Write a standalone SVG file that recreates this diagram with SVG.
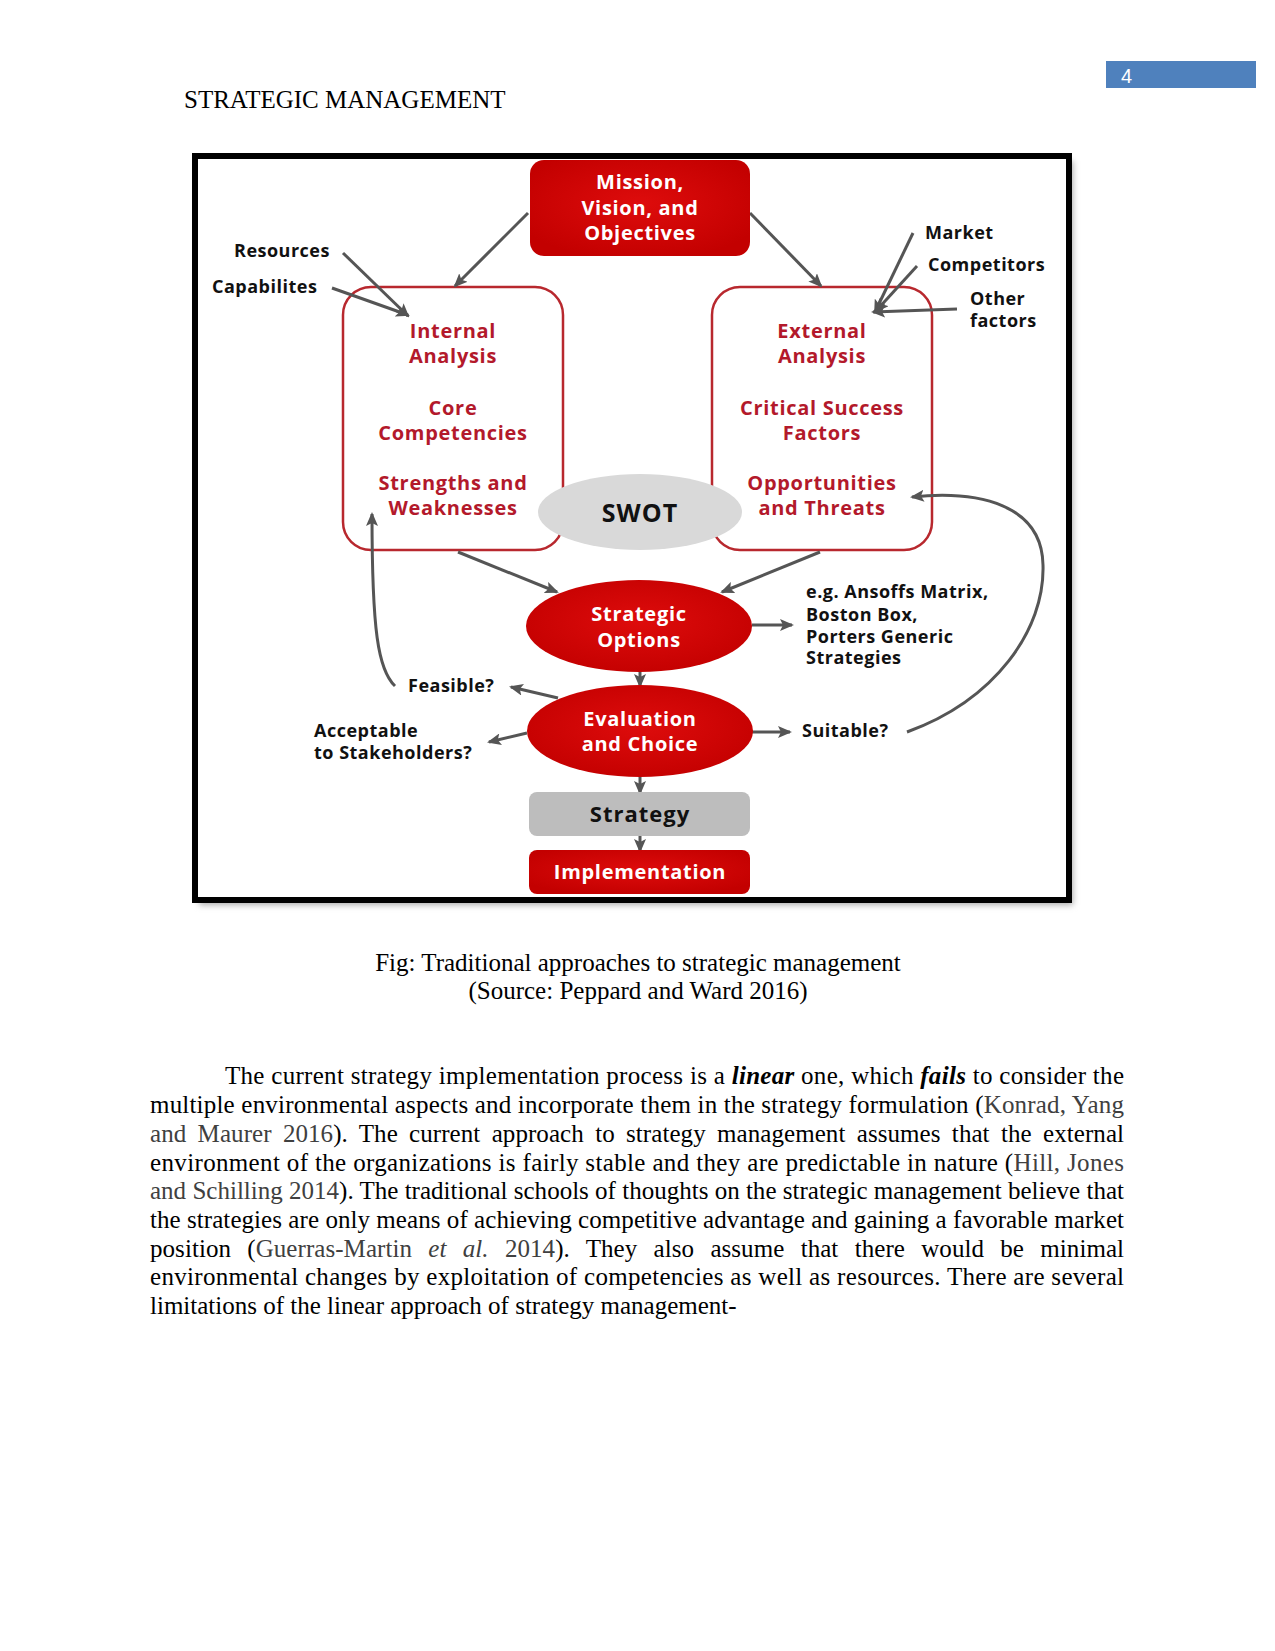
<svg xmlns="http://www.w3.org/2000/svg" width="1275" height="1651" viewBox="0 0 1275 1651">
<style>
.serif{font-family:"Liberation Serif","Times New Roman",serif;font-size:25px;fill:#000}
.cit{fill:#404040}
.rt{font-family:"Open Sans","Liberation Sans",sans-serif;font-weight:700;font-size:20px;letter-spacing:0.7px;fill:#b3192b;text-anchor:middle}
.wt{font-family:"Open Sans","Liberation Sans",sans-serif;font-weight:700;font-size:20px;letter-spacing:0.7px;fill:#fff;text-anchor:middle}
.bt{font-family:"Open Sans","Liberation Sans",sans-serif;font-weight:700;font-size:18px;letter-spacing:0.5px;fill:#111}
.conn{fill:none;stroke:#555;stroke-width:3;marker-end:url(#ah)}
.box{fill:none;stroke:#b8282e;stroke-width:2.5}
</style>
<defs>
<marker id="ah" markerUnits="userSpaceOnUse" markerWidth="14" markerHeight="12" refX="12" refY="6" orient="auto">
<path d="M0,0 L14,6 L0,12 L3,6 Z" fill="#555"/>
</marker>
<radialGradient id="red" cx="0.5" cy="0.45" r="0.6">
<stop offset="0" stop-color="#de0c0c"/>
<stop offset="1" stop-color="#c30000"/>
</radialGradient>
<filter id="sh" x="-5%" y="-5%" width="110%" height="110%">
<feGaussianBlur stdDeviation="3"/>
</filter>
</defs>
<rect width="1275" height="1651" fill="#fff"/>

<g id="header">
<rect x="1106" y="61" width="150" height="27" fill="#4f81bd"/>
<text x="1121" y="83" font-family="Liberation Sans, Arial, sans-serif" font-size="20" fill="#fff">4</text>
<text x="184" y="108" class="serif">STRATEGIC MANAGEMENT</text>
</g>

<g id="frame">
<rect x="199" y="161" width="874" height="744" fill="#aaa" filter="url(#sh)"/>
<rect x="195" y="156" width="874" height="744" fill="#fff" stroke="#000" stroke-width="6"/>
</g>

<g id="internal">
<rect class="box" x="343" y="287" width="220" height="263" rx="28"/>
<text class="rt" x="453" y="338">Internal</text>
<text class="rt" x="453" y="363">Analysis</text>
<text class="rt" x="453" y="415">Core</text>
<text class="rt" x="453" y="440">Competencies</text>
<text class="rt" x="453" y="490">Strengths and</text>
<text class="rt" x="453" y="515">Weaknesses</text>
</g>

<g id="external">
<rect class="box" x="712" y="287" width="220" height="263" rx="28"/>
<text class="rt" x="822" y="338">External</text>
<text class="rt" x="822" y="363">Analysis</text>
<text class="rt" x="822" y="415">Critical Success</text>
<text class="rt" x="822" y="440">Factors</text>
<text class="rt" x="822" y="490">Opportunities</text>
<text class="rt" x="822" y="515">and Threats</text>
</g>

<g id="connectors">
<line class="conn" x1="528" y1="213" x2="455" y2="286"/>
<line class="conn" x1="750" y1="213" x2="821" y2="286"/>
<line class="conn" x1="343" y1="253" x2="408" y2="316"/>
<line class="conn" x1="332" y1="288" x2="408" y2="315"/>
<line class="conn" x1="913" y1="233" x2="875" y2="312"/>
<line class="conn" x1="917" y1="266" x2="876" y2="311"/>
<line class="conn" x1="957" y1="309" x2="873" y2="312"/>
<line class="conn" x1="458" y1="552" x2="557" y2="592"/>
<line class="conn" x1="820" y1="552" x2="722" y2="592"/>
<line class="conn" x1="752" y1="625" x2="792" y2="625"/>
<line class="conn" x1="640" y1="671" x2="640" y2="686"/>
<line class="conn" x1="558" y1="698" x2="511" y2="687"/>
<line class="conn" x1="527" y1="733" x2="489" y2="742"/>
<line class="conn" x1="752" y1="732" x2="790" y2="732"/>
<line class="conn" x1="640" y1="776" x2="640" y2="793"/>
<line class="conn" x1="640" y1="836" x2="640" y2="851"/>
<path class="conn" d="M395,686 C378,670 372,630 372,514"/>
<path class="conn" d="M907,732 C995,700 1045,630 1043,565 C1042,505 980,490 912,497"/>
</g>

<g id="mission">
<rect x="530" y="160" width="220" height="96" rx="14" fill="url(#red)"/>
<text class="wt" x="640" y="189">Mission,</text>
<text class="wt" x="640" y="215">Vision, and</text>
<text class="wt" x="640" y="240">Objectives</text>
</g>

<g id="swot">
<ellipse cx="640" cy="512" rx="102" ry="38" fill="#d9d9d9"/>
<text x="640" y="522" font-family="Open Sans, Liberation Sans, sans-serif" font-weight="700" font-size="25" letter-spacing="1" fill="#111" text-anchor="middle">SWOT</text>
</g>

<g id="options">
<ellipse cx="639" cy="626" rx="113" ry="46" fill="url(#red)"/>
<text class="wt" x="639" y="621">Strategic</text>
<text class="wt" x="639" y="647">Options</text>
</g>

<g id="evaluation">
<ellipse cx="640" cy="731" rx="113" ry="46" fill="url(#red)"/>
<text class="wt" x="640" y="726">Evaluation</text>
<text class="wt" x="640" y="751">and Choice</text>
</g>

<g id="strategy">
<rect x="529" y="792" width="221" height="44" rx="8" fill="#bdbdbd"/>
<text x="640" y="822" font-family="Open Sans, Liberation Sans, sans-serif" font-weight="700" font-size="22" letter-spacing="1" fill="#111" text-anchor="middle">Strategy</text>
</g>

<g id="implementation">
<rect x="529" y="850" width="221" height="44" rx="8" fill="url(#red)"/>
<text class="wt" x="640" y="879">Implementation</text>
</g>

<g id="labels">
<text class="bt" x="234" y="257">Resources</text>
<text class="bt" x="212" y="293">Capabilites</text>
<text class="bt" x="925" y="239">Market</text>
<text class="bt" x="928" y="271">Competitors</text>
<text class="bt" x="970" y="305">Other</text>
<text class="bt" x="970" y="327">factors</text>
<text class="bt" x="806" y="598">e.g. Ansoffs Matrix,</text>
<text class="bt" x="806" y="621">Boston Box,</text>
<text class="bt" x="806" y="643">Porters Generic</text>
<text class="bt" x="806" y="664">Strategies</text>
<text class="bt" x="802" y="737">Suitable?</text>
<text class="bt" x="408" y="692">Feasible?</text>
<text class="bt" x="314" y="737">Acceptable</text>
<text class="bt" x="314" y="759">to Stakeholders?</text>
</g>

<g id="caption">
<text class="serif" x="638" y="971" text-anchor="middle">Fig: Traditional approaches to strategic management</text>
<text class="serif" x="638" y="999" text-anchor="middle">(Source: Peppard and Ward 2016)</text>
</g>

<g id="body">
<text class="serif" x="225" y="1084" textLength="899" lengthAdjust="spacing">The current strategy implementation process is a <tspan font-weight="700" font-style="italic">linear</tspan> one, which <tspan font-weight="700" font-style="italic">fails</tspan> to consider the</text>
<text class="serif" x="150" y="1113" textLength="974" lengthAdjust="spacing">multiple environmental aspects and incorporate them in the strategy formulation (<tspan class="cit">Konrad, Yang</tspan></text>
<text class="serif" x="150" y="1142" textLength="974" lengthAdjust="spacing" word-spacing="5"><tspan class="cit">and Maurer 2016</tspan>). The current approach to strategy management assumes that the external</text>
<text class="serif" x="150" y="1171" textLength="974" lengthAdjust="spacing">environment of the organizations is fairly stable and they are predictable in nature (<tspan class="cit">Hill, Jones</tspan></text>
<text class="serif" x="150" y="1199" textLength="974" lengthAdjust="spacing"><tspan class="cit">and Schilling 2014</tspan>). The traditional schools of thoughts on the strategic management believe that</text>
<text class="serif" x="150" y="1228" textLength="974" lengthAdjust="spacing">the strategies are only means of achieving competitive advantage and gaining a favorable market</text>
<text class="serif" x="150" y="1257" textLength="974" lengthAdjust="spacing" word-spacing="10">position (<tspan class="cit">Guerras-Martin <tspan font-style="italic">et al.</tspan> 2014</tspan>). They also assume that there would be minimal</text>
<text class="serif" x="150" y="1285" textLength="974" lengthAdjust="spacing">environmental changes by exploitation of competencies as well as resources. There are several</text>
<text class="serif" x="150" y="1314">limitations of the linear approach of strategy management-</text>
</g>
</svg>
